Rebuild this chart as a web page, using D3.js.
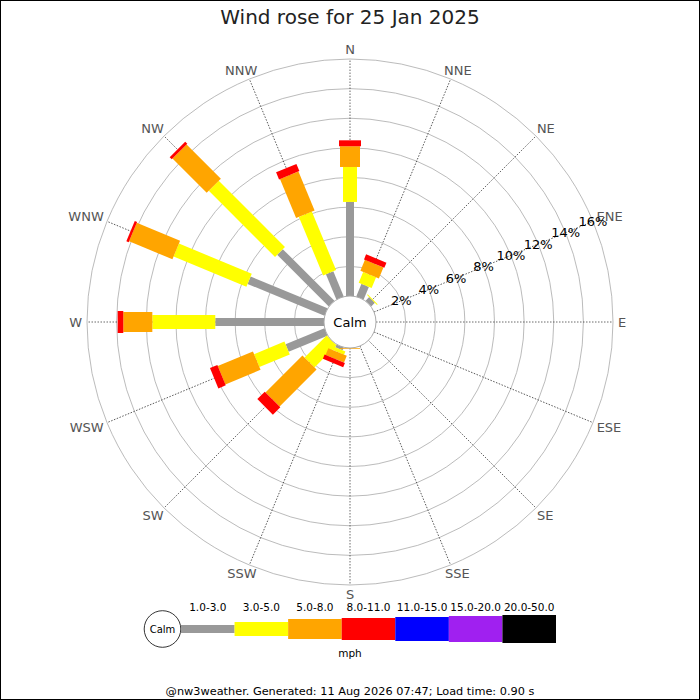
<!DOCTYPE html>
<html>
<head>
<meta charset="utf-8">
<script src="https://cdn.jsdelivr.net/npm/d3@7"></script>
<style>
  body { margin: 0; background: #fff; }
  text { font-family: "DejaVu Sans", sans-serif; }
</style>
</head>
<body>
<div id="chart"></div>
<script>
// wind rose data, % of the day per direction and speed class
const directions = ["N", "NNE", "NE", "ENE", "E", "ESE", "SE", "SSE",
                    "S", "SSW", "SW", "WSW", "W", "WNW", "NW", "NNW"];
const speedClasses = ["1.0-3.0", "3.0-5.0", "5.0-8.0", "8.0-11.0", "11.0-15.0", "15.0-20.0", "20.0-50.0"];
const classColours = ["#999999", "#ffff00", "#ffa500", "#ff0000", "#0000ff", "#a020f0", "#000000"];

const speed1to3   = [6.35, 0.92, 0.35, 0, 0, 0, 0, 0, 0,    0.20, 0,    2.84, 7.34, 5.62, 4.93, 1.84];
const speed3to5   = [2.36, 0.79, 0.06, 0, 0, 0, 0, 0, 0,    0.24, 2.11, 2.22, 4.25, 5.32, 6.32, 4.28];
const speed5to8   = [1.40, 0.80, 0,    0, 0, 0, 0, 0, 0.05, 0.49, 3.53, 2.57, 1.96, 3.17, 3.27, 2.85];
const speed8to11  = [0.40, 0.37, 0,    0, 0, 0, 0, 0, 0,    0.31, 0.71, 0.54, 0.38, 0.17, 0.20, 0.52];
const speed11to15 = [0, 0, 0, 0, 0, 0, 0, 0, 0, 0, 0, 0, 0, 0, 0, 0];
const speed15to20 = [0, 0, 0, 0, 0, 0, 0, 0, 0, 0, 0, 0, 0, 0, 0, 0];
const speed20to50 = [0, 0, 0, 0, 0, 0, 0, 0, 0, 0, 0, 0, 0, 0, 0, 0];

const ringTicks = [2, 4, 6, 8, 10, 12, 14, 16];
const titleText = "Wind rose for 25 Jan 2025";
const footerText = "@nw3weather. Generated: 11 Aug 2026 07:47; Load time: 0.90 s";

const width = 700, height = 700;
const cx = 350, cy = 322;
const calmR = 26;
const barWidths = [8, 14, 20, 22, 24, 26, 28];

const series = [speed1to3, speed3to5, speed5to8, speed8to11, speed11to15, speed15to20, speed20to50];
const rows = directions.map((d, i) => {
  const row = {dir: d, angle: i * 22.5};
  speedClasses.forEach((k, j) => row[k] = series[j][i]);
  return row;
});
const stacked = d3.stack().keys(speedClasses)(rows);

const r = d3.scaleLinear().domain([0, 16]).range([calmR, 263]);
const rad = a => a * Math.PI / 180;

const svg = d3.select("#chart").append("svg")
  .attr("width", width)
  .attr("height", height)
  .attr("viewBox", [0, 0, width, height]);

svg.append("rect")
  .attr("x", 0.5).attr("y", 0.5)
  .attr("width", width - 1).attr("height", height - 1)
  .attr("fill", "#fff").attr("stroke", "#000");

svg.append("text")
  .attr("x", width / 2).attr("y", 24)
  .attr("text-anchor", "middle")
  .attr("font-size", 20)
  .attr("fill", "#222")
  .text(titleText);

const rose = svg.append("g").attr("transform", `translate(${cx},${cy})`);

// rings
rose.selectAll("circle.ring")
  .data(ringTicks)
  .join("circle")
  .attr("class", "ring")
  .attr("r", d => r(d))
  .attr("fill", "none")
  .attr("stroke", "#aaa")
  .attr("stroke-width", 0.8);

// spokes
rose.selectAll("line.spoke")
  .data(rows)
  .join("line")
  .attr("class", "spoke")
  .attr("transform", d => `rotate(${d.angle})`)
  .attr("y1", -calmR)
  .attr("y2", -r(16))
  .attr("stroke", "#444")
  .attr("stroke-width", 0.8)
  .attr("stroke-dasharray", "1.5,1.5");

// bars
stacked.forEach((layer, j) => {
  rose.append("g")
    .selectAll("rect")
    .data(layer.filter(d => d[1] - d[0] > 0))
    .join("rect")
    .attr("transform", d => `rotate(${d.data.angle})`)
    .attr("x", -barWidths[j] / 2)
    .attr("width", barWidths[j])
    .attr("y", d => -r(d[1]))
    .attr("height", d => r(d[1]) - r(d[0]))
    .attr("fill", classColours[j]);
});

// calm circle
rose.append("circle")
  .attr("r", calmR)
  .attr("fill", "#fff")
  .attr("stroke", "#aaa");
rose.append("text")
  .attr("text-anchor", "middle")
  .attr("dy", "0.35em")
  .attr("font-size", 13)
  .text("Calm");

// direction labels, anchor slides with the angle
const labelR = 268;
rose.selectAll("text.dir")
  .data(rows)
  .join("text")
  .attr("class", "dir")
  .attr("dy", "0.35em")
  .attr("font-size", 13)
  .attr("fill", "#555")
  .text(d => d.dir)
  .each(function(d) {
    const s = Math.sin(rad(d.angle)), c = Math.cos(rad(d.angle));
    const w = this.getComputedTextLength();
    const f = (1 - s) / 2;
    d3.select(this)
      .attr("x", labelR * s - f * w)
      .attr("y", -labelR * c - Math.sign(c) * Math.sqrt(Math.abs(c)) * 4.5);
  });

// percent labels along ENE
const pa = rad(67.5);
rose.selectAll("text.pct")
  .data(ringTicks)
  .join("text")
  .attr("class", "pct")
  .attr("x", d => r(d) * Math.sin(pa))
  .attr("y", d => -r(d) * Math.cos(pa))
  .attr("dy", "0.35em")
  .attr("text-anchor", "middle")
  .attr("font-size", 13)
  .text(d => d + "%");

// legend
const lx = d3.scaleBand().domain(speedClasses).range([181, 556]);
const ly = 629;
const legend = svg.append("g");
legend.append("circle")
  .attr("cx", 162.5).attr("cy", ly).attr("r", 18.3)
  .attr("fill", "#fff").attr("stroke", "#000").attr("stroke-width", 0.8);
legend.append("text")
  .attr("x", 162.5).attr("y", ly).attr("dy", "0.35em")
  .attr("text-anchor", "middle").attr("font-size", 10)
  .text("Calm");
legend.selectAll("rect")
  .data(speedClasses)
  .join("rect")
  .attr("x", d => lx(d))
  .attr("width", lx.bandwidth())
  .attr("y", (d, j) => ly - barWidths[j] / 2)
  .attr("height", (d, j) => barWidths[j])
  .attr("fill", (d, j) => classColours[j]);
legend.selectAll("text.cls")
  .data(speedClasses)
  .join("text")
  .attr("class", "cls")
  .attr("x", d => lx(d) + lx.bandwidth() / 2)
  .attr("y", 607).attr("dy", "0.35em")
  .attr("text-anchor", "middle")
  .attr("font-size", 10.5)
  .text(d => d);
legend.append("text")
  .attr("x", 350).attr("y", 653).attr("dy", "0.35em")
  .attr("text-anchor", "middle").attr("font-size", 10.5)
  .text("mph");

svg.append("text")
  .attr("x", width / 2).attr("y", 695)
  .attr("text-anchor", "middle")
  .attr("font-size", 11.3)
  .text(footerText);
</script>
</body>
</html>
